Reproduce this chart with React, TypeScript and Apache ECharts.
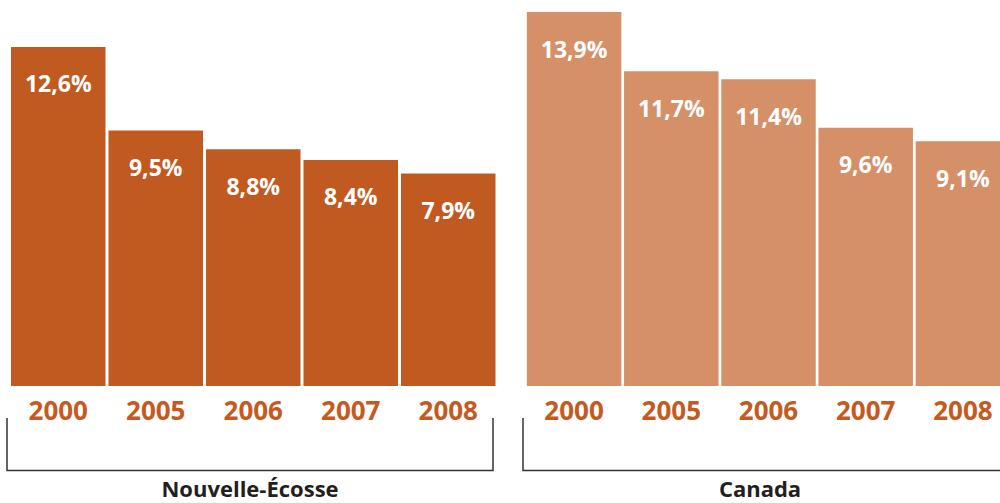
import React, { useEffect, useRef } from "react";
import * as echarts from "echarts";

const years = ["2000", "2005", "2006", "2007", "2008"];
const novaScotia = [12.6, 9.5, 8.8, 8.4, 7.9];
const canada = [13.9, 11.7, 11.4, 9.6, 9.1];
const regionTitles = ["Nouvelle-Écosse", "Canada"];

const DARK = "#C15A20";
const LIGHT = "#D69068";
const FONT = "'Open Sans', 'Noto Sans', sans-serif";

export default function App() {
  const ref = useRef<HTMLDivElement>(null);
  useEffect(() => {
    if (!ref.current) return;
    const chart = echarts.init(ref.current, undefined, { renderer: "svg" });
    const fmt = (p: any) => String(p.value).replace(".", ",") + "%";
    const xAxisCommon = {
      type: "category" as const,
      data: years,
      axisLine: { show: false },
      axisTick: { show: false },
      axisLabel: {
        color: "#C55A1E",
        fontSize: 26,
        fontWeight: "bold" as const,
        fontFamily: FONT,
        margin: 11,
      },
    };
    const yAxisCommon = {
      type: "value" as const,
      min: 0,
      max: 13.9,
      show: false,
      splitLine: { show: false },
    };
    const labelCommon = {
      show: true,
      position: "insideTop" as const,
      distance: 25,
      color: "#ffffff",
      fontSize: 23,
      fontWeight: "bold" as const,
      fontFamily: FONT,
      formatter: fmt,
    };
    const lineStyle = { stroke: "#333333", lineWidth: 1.5 };
    const titleStyle = {
      fontSize: 22,
      lineHeight: 22,
      fontWeight: "bold",
      fontFamily: FONT,
      fill: "#231F20",
      align: "center",
      verticalAlign: "middle",
    };
    chart.setOption({
      animation: false,
      grid: [
        { left: 9.5, width: 487.5, top: 12, bottom: 117 },
        { left: 525.5, width: 486, top: 12, bottom: 117 },
      ],
      xAxis: [
        { ...xAxisCommon, gridIndex: 0 },
        { ...xAxisCommon, gridIndex: 1 },
      ],
      yAxis: [
        { ...yAxisCommon, gridIndex: 0 },
        { ...yAxisCommon, gridIndex: 1 },
      ],
      series: [
        {
          type: "bar",
          xAxisIndex: 0,
          yAxisIndex: 0,
          data: novaScotia,
          barWidth: 94.5,
          itemStyle: { color: DARK },
          label: labelCommon,
        },
        {
          type: "bar",
          xAxisIndex: 1,
          yAxisIndex: 1,
          data: canada,
          barWidth: 94.5,
          itemStyle: { color: LIGHT },
          label: labelCommon,
        },
      ],
      graphic: [
        {
          type: "polyline",
          shape: { points: [[7, 418], [7, 470.5], [493, 470.5], [493, 418]] },
          style: { ...lineStyle, fill: null },
        },
        {
          type: "polyline",
          shape: { points: [[523, 418], [523, 470.5], [1040, 470.5]] },
          style: { ...lineStyle, fill: null },
        },
        {
          type: "text",
          x: 250,
          y: 488,
          style: { ...titleStyle, text: regionTitles[0] },
        },
        {
          type: "text",
          x: 760,
          y: 488,
          style: { ...titleStyle, text: regionTitles[1] },
        },
      ],
    });
    return () => chart.dispose();
  }, []);
  return (
    <div style={{ position: "fixed", left: 0, top: 0, width: 1000, height: 503, overflow: "hidden", background: "#fff" }}>
      <div ref={ref} style={{ position: "absolute", left: 0, top: 0, width: 1040, height: 503 }} />
    </div>
  );
}
